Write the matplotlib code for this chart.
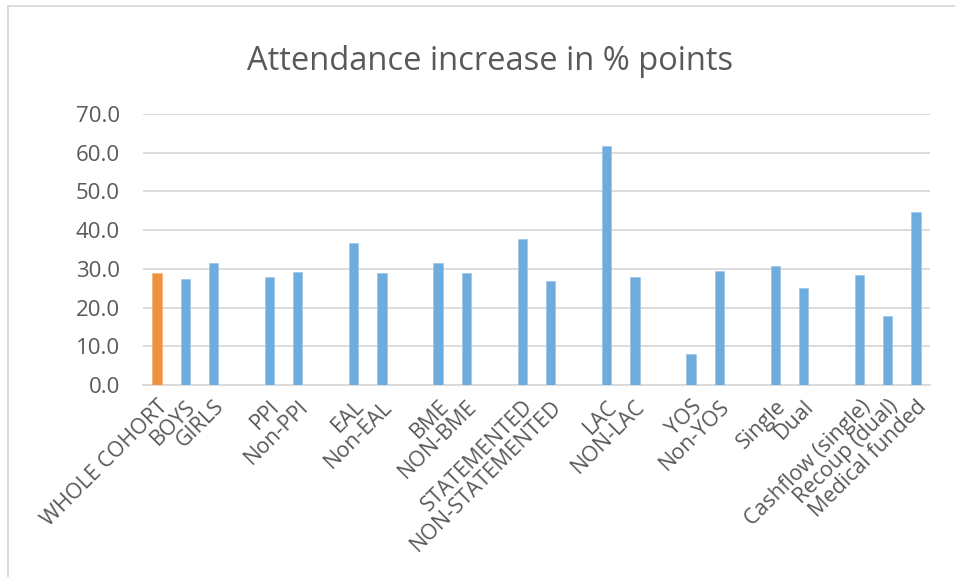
import numpy as np
import matplotlib
matplotlib.use("Agg")
import matplotlib.pyplot as plt
from matplotlib.lines import Line2D

plt.rcParams['font.family'] = ['Open Sans', 'DejaVu Sans']

# blank strings are the empty spacer categories between groups
labels = ['WHOLE COHORT', 'BOYS', 'GIRLS', '',
          'PPI', 'Non-PPI', '',
          'EAL', 'Non-EAL', '',
          'BME', 'NON-BME', '',
          'STATEMENTED', 'NON-STATEMENTED', '',
          'LAC', 'NON-LAC', '',
          'YOS', 'Non-YOS', '',
          'Single', 'Dual', '',
          'Cashflow (single)', 'Recoup (dual)', 'Medical funded']
values = [28.9, 27.3, 31.6, None,
          28.0, 29.3, None,
          36.8, 28.9, None,
          31.6, 28.9, None,
          37.7, 26.9, None,
          61.7, 28.0, None,
          8.0, 29.4, None,
          30.7, 25.1, None,
          28.3, 17.7, 44.7]
title = 'Attendance increase in % points'

blue = '#6FACDE'
orange = '#F0913F'
text_col = '#595959'
grid_col = '#D9D9D9'


def main():
    fig = plt.figure(figsize=(9.55, 5.77), dpi=100)
    ax = fig.add_axes([143 / 955, 1 - 385 / 577, (930 - 143) / 955, (385 - 114) / 577])

    x = np.arange(len(labels))
    y = np.array([np.nan if v is None else v for v in values])
    colors = [orange] + [blue] * (len(labels) - 1)
    ax.bar(x, y, width=0.33, color=colors, edgecolor='#9CC6EA', linewidth=0.5, zorder=3)
    ax.patches[0].set_edgecolor('#F4B07A')

    ax.set_xlim(-0.5, len(labels) - 0.5)
    ax.set_ylim(0, 70)
    ax.set_yticks(np.arange(0, 71, 10))
    ax.set_yticklabels([f'{t:.1f}' for t in np.arange(0, 71, 10)])
    ax.yaxis.grid(True, color=grid_col, linewidth=1.3, zorder=0)
    ax.set_axisbelow(True)
    for s in ['top', 'right', 'left']:
        ax.spines[s].set_visible(False)
    ax.spines['bottom'].set_color(grid_col)
    ax.spines['bottom'].set_linewidth(1.3)
    ax.tick_params(axis='both', length=0, colors=text_col)
    ax.tick_params(axis='y', pad=16.5, labelsize=16)

    ax.set_xticks(x)
    ax.set_xticklabels(labels, rotation=45, ha='right', va='top',
                       rotation_mode='anchor', fontsize=15.5, color=text_col)
    ax.tick_params(axis='x', pad=8)

    fig.text(490 / 955, 1 - 61 / 577, title, ha='center', va='center',
             fontsize=23.5, color=text_col)

    # chart area border (right and bottom edges are cropped off)
    fig.add_artist(Line2D([8 / 955, 8 / 955], [0, 1 - 5.5 / 577],
                          transform=fig.transFigure, color=grid_col, linewidth=1.3))
    fig.add_artist(Line2D([8 / 955, 1], [1 - 5.5 / 577, 1 - 5.5 / 577],
                          transform=fig.transFigure, color=grid_col, linewidth=1.3))

    fig.savefig('out.png', dpi=100)


if __name__ == "__main__":
    main()
